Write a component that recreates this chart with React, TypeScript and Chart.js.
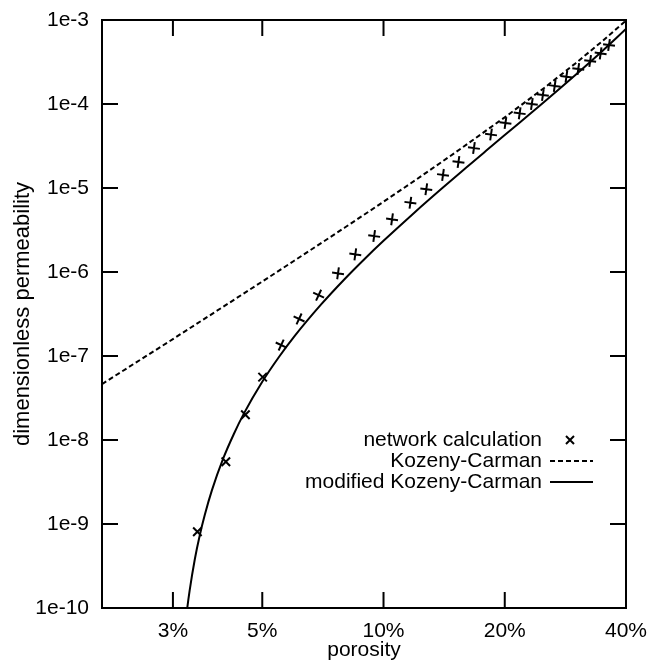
import React, { useEffect, useRef } from "react";
import { Chart, registerables } from "chart.js";

Chart.register(...registerables);

const FONT = '"Liberation Sans", Arial, Helvetica, sans-serif';

// ---- axis ticks ----
const xTickValues = [3, 5, 10, 20, 40];
const xTickLabels = ["3%", "5%", "10%", "20%", "40%"];
const yTickValues = [1e-10, 1e-9, 1e-8, 1e-7, 1e-6, 1e-5, 1e-4, 1e-3];
const yTickLabels = ["1e-10", "1e-9", "1e-8", "1e-7", "1e-6", "1e-5", "1e-4", "1e-3"];

const xTitle = "porosity";
const yTitle = "dimensionless permeability";

const seriesLabels = ["network calculation", "Kozeny-Carman", "modified Kozeny-Carman"];

// ---- network calculation (markers), porosity in % ----
const networkPorosity = [
  3.45, 4.06, 4.54, 5.01, 5.57, 6.17, 6.9, 7.71, 8.51, 9.48, 10.5, 11.66, 12.77, 14.05,
  15.35, 16.77, 18.49, 20.08, 21.78, 23.35, 24.87, 26.61, 28.45, 30.45, 32.59, 34.6, 36.3,
];
const networkPermeability = [
  8.1e-10, 5.5e-9, 2.0e-8, 5.6e-8, 1.35e-7, 2.76e-7, 5.3e-7, 9.65e-7, 1.62e-6, 2.68e-6,
  4.24e-6, 6.68e-6, 9.66e-6, 1.43e-5, 2.04e-5, 2.99e-5, 4.33e-5, 5.94e-5, 7.75e-5, 1.0e-4,
  1.28e-4, 1.64e-4, 2.11e-4, 2.61e-4, 3.25e-4, 4.01e-4, 5.04e-4,
];

// ---- Kozeny-Carman (dashed) ----
const kcPorosity = [2, 2.5, 3, 4, 5, 6, 8, 10, 12, 15, 20, 25, 30, 35, 40];
const kcPermeability = [
  4.63e-8, 9.13e-8, 1.59e-7, 3.86e-7, 7.7e-7, 1.36e-6, 3.36e-6, 6.86e-6, 1.24e-5, 2.6e-5,
  6.94e-5, 1.54e-4, 3.06e-4, 5.64e-4, 9.88e-4,
];

// ---- modified Kozeny-Carman (solid) ----
const modPorosity = [
  3.2, 3.25, 3.3, 3.4, 3.5, 3.6, 3.75, 4, 4.25, 4.5, 5, 5.5, 6, 7, 8, 9, 10, 12, 14, 16, 18,
  20, 25, 30, 35, 40,
];
const modPermeability = [
  4.74e-11, 9.27e-11, 1.6e-10, 3.81e-10, 7.46e-10, 1.29e-9, 2.53e-9, 6.03e-9, 1.18e-8,
  2.06e-8, 4.93e-8, 9.72e-8, 1.7e-7, 4.11e-7, 8.21e-7, 1.45e-6, 2.35e-6, 5.23e-6, 1.0e-5,
  1.73e-5, 2.79e-5, 4.27e-5, 1.05e-4, 2.23e-4, 4.31e-4, 7.82e-4,
];

const toPoints = (xs: number[], ys: number[]) => xs.map((x, i) => ({ x, y: ys[i] }));

const gnuplotPlugin = {
  id: "gnuplotFrame",
  afterDatasetsDraw(chart: any) {
    const { ctx, chartArea: a, scales } = chart;
    const T = 16;
    ctx.save();
    ctx.strokeStyle = "#000";
    ctx.lineWidth = 2;
    ctx.setLineDash([]);
    ctx.beginPath();
    xTickValues.forEach((v) => {
      const px = scales.x.getPixelForValue(v);
      ctx.moveTo(px, a.bottom);
      ctx.lineTo(px, a.bottom - T);
      ctx.moveTo(px, a.top);
      ctx.lineTo(px, a.top + T);
    });
    yTickValues.forEach((v) => {
      const py = scales.y.getPixelForValue(v);
      ctx.moveTo(a.left, py);
      ctx.lineTo(a.left + T, py);
      ctx.moveTo(a.right, py);
      ctx.lineTo(a.right - T, py);
    });
    ctx.stroke();
    ctx.strokeRect(a.left, a.top, a.right - a.left, a.bottom - a.top);

    // legend (gnuplot style: right-aligned text, sample on the right)
    ctx.font = `21px ${FONT}`;
    ctx.fillStyle = "#000";
    ctx.textAlign = "right";
    ctx.textBaseline = "middle";
    chart.data.datasets.forEach((ds: any, i: number) => {
      const y = a.top + 420 + i * 21;
      ctx.fillText(ds.label, a.right - 84, y);
      ctx.beginPath();
      if (ds.showLine === false) {
        const cx = a.right - 56;
        const r = 4;
        ctx.setLineDash([]);
        ctx.moveTo(cx - r, y - r);
        ctx.lineTo(cx + r, y + r);
        ctx.moveTo(cx - r, y + r);
        ctx.lineTo(cx + r, y - r);
      } else {
        ctx.setLineDash(ds.borderDash || []);
        ctx.moveTo(a.right - 76, y);
        ctx.lineTo(a.right - 33, y);
      }
      ctx.stroke();
    });
    ctx.restore();
  },
};

export default function App() {
  const canvasRef = useRef<HTMLCanvasElement | null>(null);

  useEffect(() => {
    const canvas = canvasRef.current;
    if (!canvas) return;
    const chart = new Chart(canvas, {
      type: "line",
      data: {
        datasets: [
          {
            label: seriesLabels[0],
            data: toPoints(networkPorosity, networkPermeability),
            showLine: false,
            pointStyle: "cross",
            pointRadius: 6,
            pointHoverRadius: 6,
            pointBorderWidth: 2,
            pointRotation: (c: any) => (c.dataIndex < 4 ? 45 : c.dataIndex < 7 ? 25 : 8),
            borderColor: "#000",
            backgroundColor: "#000",
          },
          {
            label: seriesLabels[1],
            data: toPoints(kcPorosity, kcPermeability),
            borderColor: "#000",
            borderWidth: 2,
            borderDash: [5, 3],
            pointRadius: 0,
            fill: false,
          },
          {
            label: seriesLabels[2],
            data: toPoints(modPorosity, modPermeability),
            borderColor: "#000",
            borderWidth: 2,
            pointRadius: 0,
            fill: false,
            cubicInterpolationMode: "monotone",
          },
        ],
      },
      options: {
        responsive: false,
        animation: false,
        events: [],
        layout: { padding: { top: 20, right: 23, left: 0, bottom: 0 } },
        plugins: {
          legend: { display: false },
          tooltip: { enabled: false },
        },
        scales: {
          x: {
            type: "logarithmic",
            min: 2,
            max: 40,
            grid: { display: false, drawTicks: false },
            border: { display: false },
            afterBuildTicks: (s: any) => {
              s.ticks = xTickValues.map((v) => ({ value: v }));
            },
            afterFit: (s: any) => {
              s.height = 53;
              s.paddingLeft = 0;
              s.paddingRight = 0;
              s.paddingTop = 0;
              s.paddingBottom = 0;
            },
            ticks: {
              autoSkip: false,
              maxRotation: 0,
              padding: 11,
              color: "#000",
              font: { family: FONT, size: 21 },
              callback: (_v: any, i: number) => xTickLabels[i],
            },
            title: {
              display: true,
              text: xTitle,
              color: "#000",
              font: { family: FONT, size: 21, lineHeight: 1 },
              padding: { top: 0, bottom: 0 },
            },
          },
          y: {
            type: "logarithmic",
            min: 1e-10,
            max: 1e-3,
            grid: { display: false, drawTicks: false },
            border: { display: false },
            afterBuildTicks: (s: any) => {
              s.ticks = yTickValues.map((v) => ({ value: v }));
            },
            afterFit: (s: any) => {
              s.width = 102;
              s.paddingLeft = 0;
              s.paddingRight = 0;
              s.paddingTop = 0;
              s.paddingBottom = 0;
            },
            ticks: {
              autoSkip: false,
              padding: 13,
              color: "#000",
              font: { family: FONT, size: 21 },
              callback: (_v: any, i: number) => yTickLabels[i],
            },
            title: {
              display: true,
              text: yTitle,
              color: "#000",
              font: { family: FONT, size: 22 },
              padding: { top: 10, bottom: 0 },
            },
          },
        },
      },
      plugins: [gnuplotPlugin],
    } as any);
    return () => chart.destroy();
  }, []);

  return (
    <div style={{ position: "absolute", left: 0, top: 0, width: 649, height: 661, background: "#fff" }}>
      <canvas ref={canvasRef} width={649} height={661} />
    </div>
  );
}
